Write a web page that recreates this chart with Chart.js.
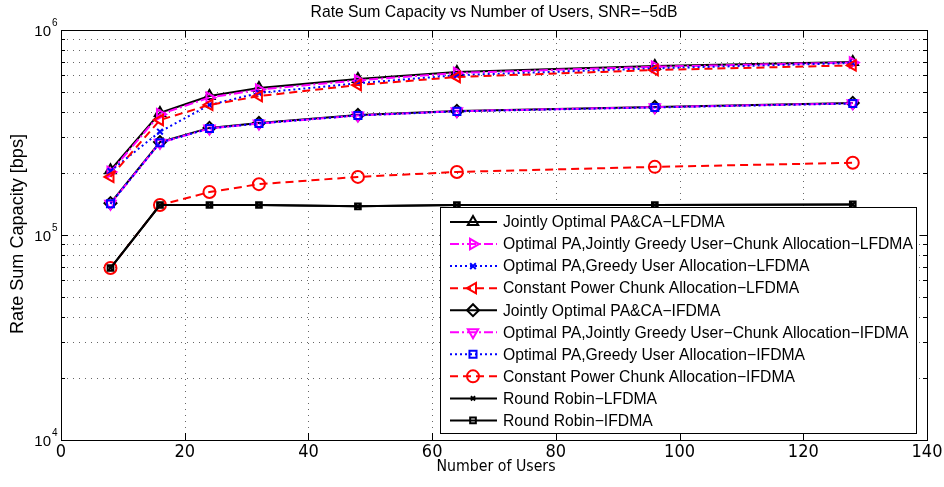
<!DOCTYPE html>
<html>
<head>
<meta charset="utf-8">
<script src="https://cdn.jsdelivr.net/npm/chart.js@4.4.1/dist/chart.umd.min.js"></script>
<style>
  html, body { margin: 0; padding: 0; background: #fff; }
  #wrap { width: 944px; height: 487px; }
</style>
</head>
<body>
<div id="wrap"><canvas id="capChart"></canvas></div>
<script>
// number of users on the x axis
const users = [8, 16, 24, 32, 48, 64, 96, 128];

// rate sum capacity [bps] per scheme
const jointLF       = [207000, 394000, 476000, 521000, 577000, 624000, 667000, 698000];
const greedyChunkLF = [203000, 388000, 468000, 512000, 568000, 617000, 662000, 694000];
const greedyUserLF  = [205000, 319000, 431000, 493000, 550000, 602000, 650000, 690000];
const constLF       = [192000, 364000, 431000, 476000, 539000, 590000, 638000, 672000];
const jointIF       = [143000, 284000, 333000, 352000, 385000, 403000, 421000, 441000];
const greedyChunkIF = [142000, 282000, 331000, 350000, 383000, 402000, 420000, 439000];
const greedyUserIF  = [142000, 282000, 331000, 350000, 383000, 401000, 419000, 438000];
const constIF       = [69000, 140000, 162000, 177000, 192000, 203000, 215000, 225000];
const rrLF          = [69000, 140000, 140000, 140000, 138000, 140000, 140000, 141000];
const rrIF          = [69000, 140000, 140000, 140000, 138000, 140000, 140000, 141000];

const seriesNames = [
  'Jointly Optimal PA&CA\u2212LFDMA',
  'Optimal PA,Jointly Greedy User\u2212Chunk Allocation\u2212LFDMA',
  'Optimal PA,Greedy User Allocation\u2212LFDMA',
  'Constant Power Chunk Allocation\u2212LFDMA',
  'Jointly Optimal PA&CA\u2212IFDMA',
  'Optimal PA,Jointly Greedy User\u2212Chunk Allocation\u2212IFDMA',
  'Optimal PA,Greedy User Allocation\u2212IFDMA',
  'Constant Power Chunk Allocation\u2212IFDMA',
  'Round Robin\u2212LFDMA',
  'Round Robin\u2212IFDMA'
];

const xTicks = [0, 20, 40, 60, 80, 100, 120, 140];
const yDecades = [10000, 100000, 1000000];

const SOLID = [], DASHED = [8, 5], DASHDOT = [9, 3, 2, 3], DOTTED = [2, 3];

function series(i, values, color, dash, style, rot, radius) {
  return {
    label: seriesNames[i],
    data: users.map((u, k) => ({ x: u, y: values[k] })),
    borderColor: color,
    backgroundColor: 'rgba(0,0,0,0)',
    borderWidth: 2,
    borderDash: dash,
    pointStyle: style,
    pointRotation: rot || 0,
    pointRadius: radius,
    pointBorderWidth: 2,
    pointBorderColor: color,
    pointBackgroundColor: 'rgba(0,0,0,0)',
    tension: 0,
    order: 20 - i
  };
}

const datasets = [
  series(0, jointLF, '#000000', SOLID, 'triangle', 0, 6),
  series(1, greedyChunkLF, '#ff00ff', DASHDOT, 'triangle', 90, 6),
  series(2, greedyUserLF, '#0000ff', DOTTED, 'crossRot', 0, 4),
  series(3, constLF, '#ff0000', DASHED, 'triangle', -90, 6),
  series(4, jointIF, '#000000', SOLID, 'rectRot', 0, 6),
  series(5, greedyChunkIF, '#ff00ff', DASHDOT, 'triangle', 180, 6),
  series(6, greedyUserIF, '#0000ff', DOTTED, 'rect', 0, 5),
  series(7, constIF, '#ff0000', DASHED, 'circle', 0, 6),
  series(8, rrLF, '#000000', SOLID, 'crossRot', 0, 3),
  series(9, rrIF, '#000000', SOLID, 'rect', 0, 4)
];

function logTicks() {
  const out = [];
  for (let e = 4; e < 6; e++) {
    for (let m = 1; m < 10; m++) out.push({ value: m * Math.pow(10, e) });
  }
  out.push({ value: 1e6 });
  return out;
}

const FONT = '"Liberation Sans", Arial, sans-serif';
const NARROW = '"Liberation Sans Narrow", "DejaVu Sans Condensed", "Liberation Sans", sans-serif';

// pick a font size so the text spans the given width
function fitFont(ctx, text, family, width) {
  ctx.font = '20px ' + family;
  const w = ctx.measureText(text).width;
  return (20 * width / w).toFixed(2) + 'px ' + family;
}

const decorations = {
  id: 'decorations',
  beforeDatasetsDraw(chart) {
    const { ctx, chartArea: a, scales } = chart;
    ctx.save();
    ctx.strokeStyle = '#666';
    ctx.lineWidth = 1;
    ctx.setLineDash([1, 5]);
    ctx.beginPath();
    xTicks.slice(1, -1).forEach(v => {
      const px = Math.round(scales.x.getPixelForValue(v)) + 0.5;
      ctx.moveTo(px, a.bottom); ctx.lineTo(px, a.top);
    });
    logTicks().forEach(t => {
      const py = Math.round(scales.y.getPixelForValue(t.value)) + 0.5;
      ctx.moveTo(a.left, py); ctx.lineTo(a.right, py);
    });
    ctx.stroke();
    ctx.restore();
  },
  afterDatasetsDraw(chart) {
    const { ctx, chartArea: a, scales } = chart;
    const xs = scales.x, ys = scales.y;
    ctx.save();

    // box round the axes
    ctx.strokeStyle = '#000';
    ctx.lineWidth = 1;
    ctx.setLineDash([]);
    ctx.strokeRect(a.left + 0.5, a.top + 0.5, a.right - a.left, a.bottom - a.top);

    // inward tick marks
    ctx.beginPath();
    xTicks.forEach(v => {
      const px = Math.round(xs.getPixelForValue(v)) + 0.5;
      ctx.moveTo(px, a.bottom); ctx.lineTo(px, a.bottom - 7);
      ctx.moveTo(px, a.top); ctx.lineTo(px, a.top + 7);
    });
    logTicks().forEach(t => {
      const py = Math.round(ys.getPixelForValue(t.value)) + 0.5;
      const len = yDecades.includes(t.value) ? 7 : 4;
      ctx.moveTo(a.left, py); ctx.lineTo(a.left + len, py);
      ctx.moveTo(a.right, py); ctx.lineTo(a.right - len, py);
    });
    ctx.stroke();

    // x tick labels
    ctx.fillStyle = '#000';
    ctx.font = '18px ' + NARROW;
    ctx.textAlign = 'center';
    ctx.textBaseline = 'middle';
    xTicks.forEach(v => ctx.fillText(String(v), xs.getPixelForValue(v), a.bottom + 12));

    // y tick labels as powers of ten
    yDecades.forEach(v => {
      const py = ys.getPixelForValue(v);
      const exp = String(Math.round(Math.log10(v)));
      ctx.font = '15px ' + FONT;
      ctx.textAlign = 'right';
      ctx.textBaseline = 'middle';
      ctx.fillText('10', a.left - 10, py + 2);
      ctx.font = '10px ' + FONT;
      ctx.textAlign = 'left';
      ctx.fillText(exp, a.left - 9, py - 7);
    });

    // titles
    const title = 'Rate Sum Capacity vs Number of Users, SNR=\u22125dB';
    ctx.font = fitFont(ctx, title, FONT, 367);
    ctx.textAlign = 'center';
    ctx.textBaseline = 'middle';
    ctx.fillText(title, 494, 13);
    ctx.font = fitFont(ctx, 'Number of Users', NARROW, 119);
    ctx.fillText('Number of Users', 496, 467);
    ctx.save();
    ctx.translate(18, 234);
    ctx.rotate(-Math.PI / 2);
    ctx.font = fitFont(ctx, 'Rate Sum Capacity [bps]', FONT, 200);
    ctx.fillText('Rate Sum Capacity [bps]', 0, 0);
    ctx.restore();

    // legend
    const lx = 440, ly = 207, lw = 476, lh = 226, row = 22.05;
    ctx.fillStyle = '#fff';
    ctx.fillRect(lx, ly, lw, lh);
    ctx.strokeStyle = '#000';
    ctx.lineWidth = 1;
    ctx.strokeRect(lx + 0.5, ly + 0.5, lw, lh);
    const legendFont = fitFont(ctx, seriesNames[1], FONT, 410);
    chart.data.datasets.forEach((ds, i) => {
      const cy = ly + 15 + i * row;
      ctx.strokeStyle = ds.borderColor;
      ctx.lineWidth = 2;
      ctx.setLineDash(ds.borderDash);
      ctx.beginPath();
      ctx.moveTo(lx + 10, cy); ctx.lineTo(lx + 57, cy);
      ctx.stroke();
      ctx.setLineDash([]);
      ctx.fillStyle = 'rgba(0,0,0,0)';
      Chart.helpers.drawPoint(ctx, {
        pointStyle: ds.pointStyle,
        rotation: ds.pointRotation,
        radius: ds.pointRadius,
        borderWidth: 2
      }, lx + 33, cy);
      ctx.fillStyle = '#000';
      ctx.font = legendFont;
      ctx.textAlign = 'left';
      ctx.textBaseline = 'middle';
      ctx.fillText(ds.label, lx + 63, cy + 1);
    });
    ctx.restore();
  }
};

new Chart(document.getElementById('capChart'), {
  type: 'line',
  data: { datasets: datasets },
  options: {
    responsive: true,
    maintainAspectRatio: false,
    animation: false,
    layout: { padding: { left: 61, right: 17, top: 30, bottom: 47 } },
    plugins: { legend: { display: false }, title: { display: false }, tooltip: { enabled: false } },
    scales: {
      x: { type: 'linear', min: 0, max: 140, display: false },
      y: { type: 'logarithmic', min: 10000, max: 1000000, display: false }
    }
  },
  plugins: [decorations]
});
</script>
</body>
</html>
